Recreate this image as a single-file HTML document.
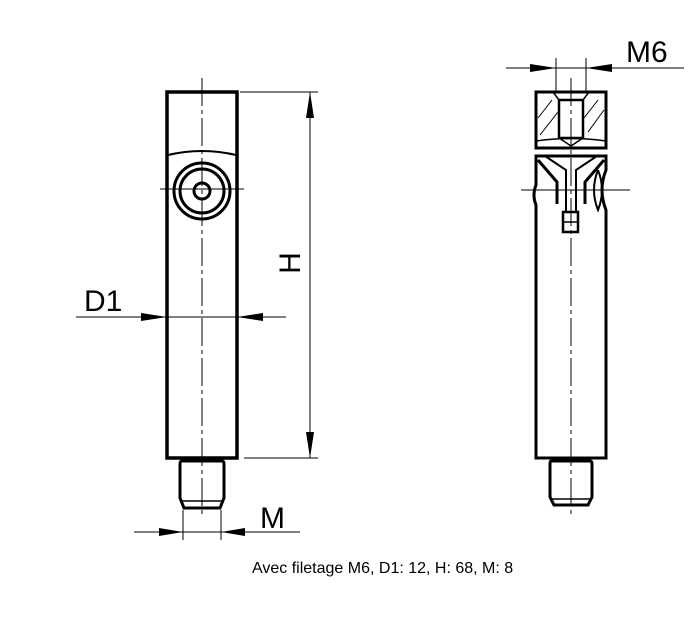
<!DOCTYPE html>
<html><head><style>body{margin:0;background:#fff}svg{display:block}</style></head><body>
<svg width="692" height="634" viewBox="0 0 692 634" xmlns="http://www.w3.org/2000/svg" font-family="Liberation Sans, sans-serif">
<g stroke="#000" fill="none">
<g stroke-width="1" stroke-dasharray="28,4,4,4">
<line x1="202" y1="78" x2="202" y2="518"/>
</g>
<line x1="160" y1="189" x2="244" y2="189" stroke-width="1"/>
<path d="M167,458 V92 H237 V458 Z" stroke-width="3.5"/>
<path d="M168,155 Q202,147 236,155" stroke-width="2"/>
<circle cx="202" cy="191" r="28" stroke-width="3"/>
<circle cx="202" cy="191" r="22" stroke-width="3"/>
<circle cx="202" cy="191" r="8" stroke-width="3"/>
<path d="M182,461 H222 Q224,461 224,464 V498 L220,508 H184 L180,498 V464 Q180,461 182,461 Z" stroke-width="3"/>
<line x1="182" y1="501" x2="222" y2="501" stroke-width="1.5"/>
<line x1="240" y1="92" x2="318" y2="92" stroke-width="1"/>
<line x1="244" y1="458" x2="318" y2="458" stroke-width="1"/>
<line x1="310" y1="92" x2="310" y2="458" stroke-width="1"/>
<line x1="76" y1="317" x2="286" y2="317" stroke-width="1"/>
<line x1="183" y1="510" x2="183" y2="540" stroke-width="1"/>
<line x1="221" y1="510" x2="221" y2="540" stroke-width="1"/>
<line x1="134" y1="532" x2="300" y2="532" stroke-width="1"/>
<g stroke-width="1" stroke-dasharray="28,4,4,4">
<line x1="571" y1="78" x2="571" y2="518"/>
</g>
<line x1="521" y1="190" x2="630" y2="190" stroke-width="1"/>
<path d="M536,148 V92 H606 V148 Z" stroke-width="3"/>
<path d="M536,141 Q571,136 606,141" stroke-width="1.5"/>
<path d="M553,92 L559,100 H583 L589,92" stroke-width="1.5"/>
<rect x="559" y="100" width="24" height="38" stroke-width="2.5"/>
<path d="M559,138 L571,146 L583,138" stroke-width="1.5"/>
<g stroke-width="1">
<line x1="538" y1="118" x2="552" y2="100"/><line x1="540" y1="135" x2="558" y2="112"/>
<line x1="584" y1="118" x2="598" y2="100"/><line x1="588" y1="132" x2="604" y2="110"/>
</g>
<path d="M536,458 V205 Q532,195 536,185 V156 H606 V170 Q598,190 606,210 V458 Z" stroke-width="3"/>
<path d="M538,160 L557,182 V204" stroke-width="3"/>
<path d="M604,160 L585,182 V204" stroke-width="3"/>
<path d="M545,156 L566,170 V212 M597,156 L576,170 V212" stroke-width="2"/>
<path d="M598,170 Q590,190 598,210 Q606,190 598,170" stroke-width="2"/>
<rect x="563" y="212" width="15" height="20" stroke-width="2.5"/>
<line x1="563" y1="222" x2="578" y2="222" stroke-width="1.5"/>
<path d="M551,461 H590 Q592,461 592,464 V497 L588,505 H554 L550,497 V464 Q550,461 551,461 Z" stroke-width="3"/>
<line x1="551" y1="499" x2="591" y2="499" stroke-width="1.5"/>
<line x1="556" y1="58" x2="556" y2="92" stroke-width="1"/>
<line x1="586" y1="58" x2="586" y2="92" stroke-width="1"/>
<line x1="506" y1="68" x2="684" y2="68" stroke-width="1"/>
</g>
<g fill="#000">
<polygon points="310,92 306,118 314,118"/>
<polygon points="310,458 306,432 314,432"/>
<polygon points="167,317 141,313 141,321"/>
<polygon points="237,317 263,313 263,321"/>
<polygon points="183,532 159,528 159,536"/>
<polygon points="221,532 245,528 245,536"/>
<polygon points="556,68 530,64 530,72"/>
<polygon points="586,68 612,64 612,72"/>
</g>
<g fill="#000" font-size="30">
<text x="84" y="311">D1</text>
<text x="260" y="528">M</text>
<text x="626" y="62">M6</text>
<text transform="translate(300,263) rotate(-90)" text-anchor="middle">H</text>
</g>
<text x="252" y="573" font-size="16" fill="#000">Avec filetage M6, D1: 12, H: 68, M: 8</text>
</svg>
</body></html>
